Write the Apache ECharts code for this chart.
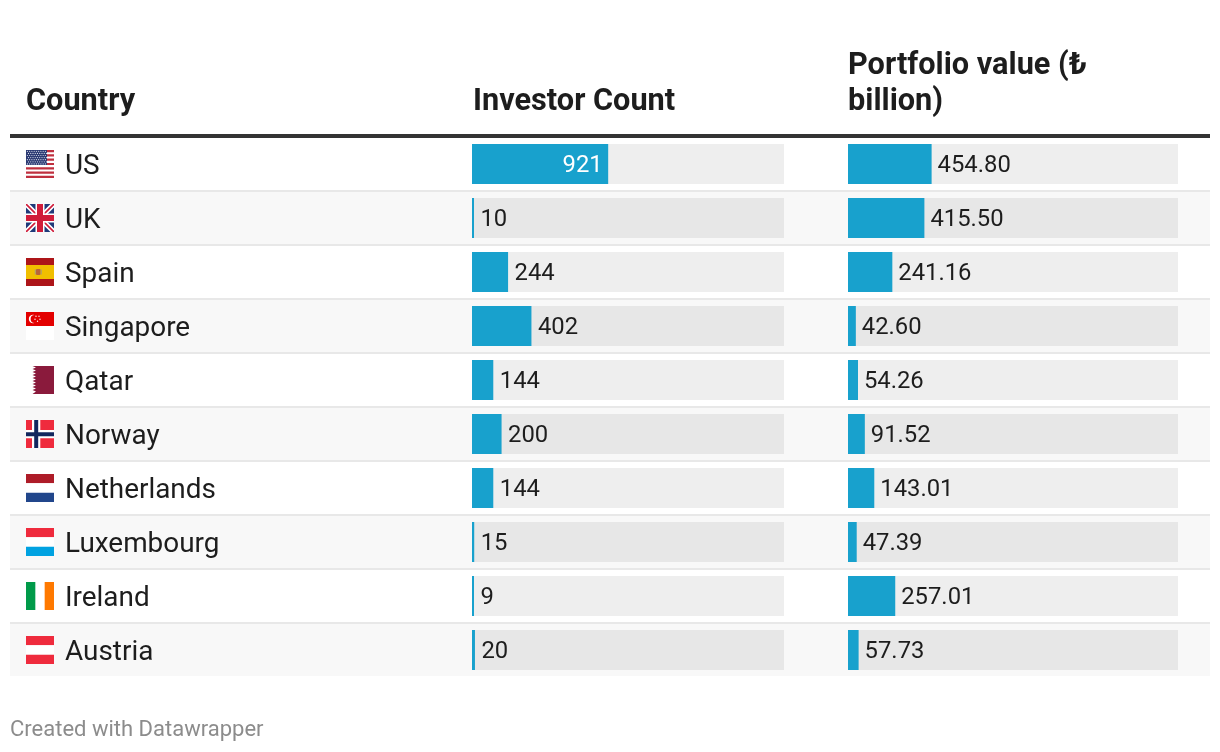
<!DOCTYPE html>
<html><head><meta charset="utf-8">
<style>html,body{margin:0;padding:0;background:#fff}#c{width:1220px;height:752px}</style>
<script src="https://cdn.jsdelivr.net/npm/echarts@6/dist/echarts.min.js"></script>
</head><body><div id="c"></div>
<script>
const countries = ['US','UK','Spain','Singapore','Qatar','Norway','Netherlands','Luxembourg','Ireland','Austria'];
const investorCount = [921,10,244,402,144,200,144,15,9,20];
const portfolioValue = [454.80,415.50,241.16,42.60,54.26,91.52,143.01,47.39,257.01,57.73];
const headers = ['Country','Investor Count','Portfolio value (₺\nbillion)'];
const footer = 'Created with Datawrapper';

const FONT = 'Roboto';
const INK = '#1d1d1d';
const BAR = '#18a1cd';

function svg(body){
  return 'data:image/svg+xml;charset=utf-8,' + encodeURIComponent(
    '<svg xmlns="http://www.w3.org/2000/svg" width="28" height="28" viewBox="0 0 28 28">' + body + '</svg>');
}
function hStripes(colors){
  const h = 28 / colors.length;
  return colors.map((c,i)=>`<rect x="0" y="${i*h}" width="28" height="${h+0.02}" fill="${c}"/>`).join('');
}
function usFlag(){
  let s = '<rect width="28" height="28" fill="#fff"/>';
  for(let i=0;i<13;i+=2) s += `<rect y="${i*28/13}" width="28" height="${28/13}" fill="#bf2f3e"/>`;
  s += '<rect width="21" height="15" fill="#2b3a73"/>';
  for(let r=0;r<7;r++) for(let c=0;c<9;c++)
    s += `<circle cx="${1.4+c*2.25+(r%2?1.1:0)}" cy="${1.3+r*2.1}" r="0.6" fill="#d9dcea"/>`;
  return s;
}
const flags = {
  US: usFlag(),
  UK: '<rect width="28" height="28" fill="#1f3a7a"/>'+
      '<path d="M0 0L28 28M28 0L0 28" stroke="#fff" stroke-width="5"/>'+
      '<path d="M0 0L28 28M28 0L0 28" stroke="#d01c3a" stroke-width="1.6"/>'+
      '<rect x="9.5" width="9" height="28" fill="#fff"/><rect y="9.5" width="28" height="9" fill="#fff"/>'+
      '<rect x="11" width="6" height="28" fill="#d01c3a"/><rect y="11" width="28" height="6" fill="#d01c3a"/>',
  Spain: '<rect width="28" height="28" fill="#ad1519"/><rect y="7" width="28" height="14" fill="#f1bf00"/>'+
      '<rect x="10" y="11" width="4.5" height="6" rx="1" fill="#b9653a"/><rect x="8.8" y="11.5" width="1" height="5" fill="#a89a7a"/><rect x="14.7" y="11.5" width="1" height="5" fill="#a89a7a"/>',
  Singapore: '<rect width="28" height="28" fill="#fff"/><rect width="28" height="14" fill="#e30000"/>'+
      '<circle cx="7" cy="7" r="4.2" fill="#fff"/><circle cx="8.6" cy="7" r="4" fill="#e30000"/>'+
      '<circle cx="10" cy="4.3" r="0.7" fill="#fff"/><circle cx="13" cy="4.3" r="0.7" fill="#fff"/><circle cx="9" cy="7.2" r="0.7" fill="#fff"/><circle cx="14" cy="7.2" r="0.7" fill="#fff"/><circle cx="11.5" cy="9.3" r="0.7" fill="#fff"/>',
  Qatar: '<path fill="#8a1a3c" d="M28 0H6.5L10 1.5 6.5 3 10 4.5 6.5 6 10 7.5 6.5 9 10 10.5 6.5 12 10 13.5 6.5 15 10 16.5 6.5 18 10 19.5 6.5 21 10 22.5 6.5 24 10 25.5 6.5 28H28Z"/>',
  Norway: '<rect width="28" height="28" fill="#ef2b3d"/><rect x="6" width="8.3" height="28" fill="#fff"/><rect y="10" width="28" height="8.3" fill="#fff"/>'+
      '<rect x="8.2" width="4" height="28" fill="#12275e"/><rect y="12.2" width="28" height="4" fill="#12275e"/>',
  Netherlands: hStripes(['#ae1c28','#ffffff','#21468b']),
  Luxembourg: hStripes(['#ef2b3d','#ffffff','#00a2e1']),
  Ireland: '<rect width="9.33" height="28" fill="#009a49"/><rect x="18.67" width="9.33" height="28" fill="#ff7900"/>',
  Austria: hStripes(['#ef2b3d','#ffffff','#ef2b3d'])
};

const rich = { name: { fontFamily: FONT, fontSize: 27.9, color: INK, padding: [7,0,0,11] } };
countries.forEach((c,i)=>{
  rich['f'+i] = { width: 28, height: 28, backgroundColor: { image: svg(flags[c]) } };
});

const tableTop = 137, rowH = 54;
function grid(left,width){ return { left, width, top: tableTop, height: rowH*countries.length }; }
function yAxis(idx, extra){
  return Object.assign({ type:'category', gridIndex: idx, inverse:true, data: countries,
    axisLine:{show:false}, axisTick:{show:false}, axisLabel:{show:false}, splitLine:{show:false} }, extra||{});
}
function xAxis(idx,max){
  return { type:'value', gridIndex: idx, min:0, max, show:false };
}
function barSeries(idx, values, fmt, insideAbove, gap){
  return {
    type:'bar', xAxisIndex: idx, yAxisIndex: idx, barWidth: 40, silent:true, barMinHeight: 2,
    showBackground:true, backgroundStyle:{ color:'rgba(0,0,0,0.065)' },
    itemStyle:{ color: BAR },
    data: values.map(v=>({
      value:v,
      label: v>=insideAbove
        ? { show:true, position:'insideRight', distance:gap-1, color:'#fff', formatter:fmt(v) }
        : { show:true, position:'right', distance:gap, color:INK, formatter:fmt(v) }
    })),
    label:{ show:true, fontFamily:FONT, fontSize:23.8, offset:[0,2] }
  };
}
function headerTitle(text,left,top){
  return { text, left, top, padding:0, textStyle:{ fontFamily:FONT, fontSize:30.7, fontWeight:700, color:INK, lineHeight:36 } };
}

const chart = echarts.init(document.getElementById('c'), null, {renderer:'canvas'});
chart.setOption({
  animation:false,
  backgroundColor:'#fff',
  title:[
    headerTitle(headers[0],26,84),
    headerTitle(headers[1],473,84),
    headerTitle(headers[2],848,48),
    { text:footer, left:10, top:719, padding:0, textStyle:{ fontFamily:FONT, fontSize:22, fontWeight:400, color:'#8c8c8c' } }
  ],
  grid:[ grid(10,1200), grid(472,312), grid(848,330) ],
  xAxis:[ xAxis(0,1), xAxis(1,2110), xAxis(2,1795) ],
  yAxis:[
    yAxis(0,{
      splitArea:{ show:true, areaStyle:{ color:['#ffffff','#f8f8f8'] } },
      splitLine:{ show:true, showMinLine:false, showMaxLine:false, lineStyle:{ color:'#e8e8e8', width:2 } },
      axisLabel:{ show:true, inside:true, margin:16, align:'left',
        formatter:(v)=>{ const i=countries.indexOf(v); return `{f${i}|}{name|${v}}`; }, rich }
    }),
    yAxis(1), yAxis(2)
  ],
  graphic:[
    { type:'rect', left:10, top:134, z:10, shape:{ width:1200, height:4 }, style:{ fill:'#333333' } },
    { type:'rect', left:10, top:676, z:10, shape:{ width:1200, height:2 }, style:{ fill:'#ffffff' } }
  ],
  series:[
    barSeries(1, investorCount, v=>String(v), 500, 6.5),
    barSeries(2, portfolioValue, v=>v.toFixed(2), 100000, 6)
  ]
});
</script></body></html>
